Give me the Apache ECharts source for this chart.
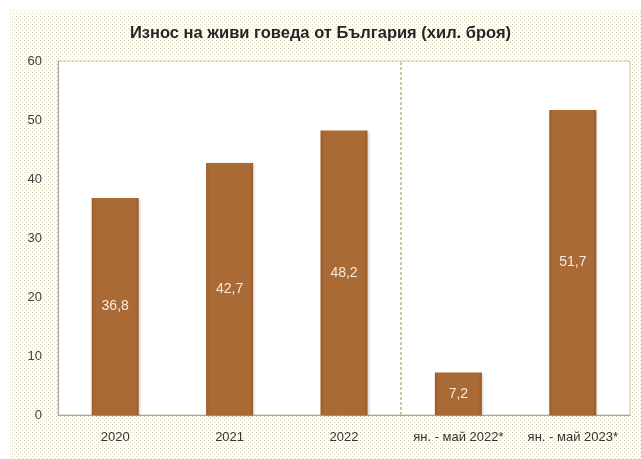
<!DOCTYPE html>
<html><head><meta charset="utf-8">
<script src="https://cdn.jsdelivr.net/npm/echarts@6/dist/echarts.min.js"></script>
<style>html,body{margin:0;padding:0;background:#fff}#c{width:641px;height:459px}</style>
</head><body><div id="c"></div>
<script>
const titleText = 'Износ на живи говеда от България (хил. броя)';
const categories = ['2020', '2021', '2022', 'ян. - май 2022*', 'ян. - май 2023*'];
const values = [36.8, 42.7, 48.2, 7.2, 51.7];
const yTicks = { min: 0, max: 60, interval: 10 };
const dividerAfter = 3; // divider after the first 3 categories (annual vs. Jan–May)

const FONT = "'Liberation Sans Narrow', 'Arial Narrow', 'Liberation Sans', Arial, sans-serif";

const pc = document.createElement('canvas');
pc.width = 4; pc.height = 4;
const px = pc.getContext('2d');
px.fillStyle = '#fff'; px.fillRect(0, 0, 4, 4);
px.fillStyle = '#d9d5b9';
px.fillRect(0, 0, 1, 1);
px.fillRect(2, 2, 1, 1);

const chart = echarts.init(document.getElementById('c'), null, { renderer: 'canvas' });
chart.setOption({
  backgroundColor: '#fff',
  animation: false,
  graphic: [{
    type: 'rect', z: -10, silent: true,
    shape: { x: 10, y: 10, width: 631, height: 449 },
    style: { fill: { image: pc, repeat: 'repeat' } }
  }],
  title: {
    text: titleText, left: 'center', top: 20,
    textStyle: { fontFamily: FONT, fontSize: 16.5, fontWeight: 'bold', color: '#262626' }
  },
  grid: {
    left: 58, right: 11, top: 61, bottom: 44,
    show: true, backgroundColor: '#fff', borderColor: '#cbc7a6', borderWidth: 1
  },
  xAxis: [{
    type: 'category', data: categories,
    axisLine: { show: true, lineStyle: { color: '#a6a6a6' } },
    axisTick: { show: false },
    axisLabel: { fontFamily: FONT, fontSize: 13, color: '#333', margin: 16, interval: 0 },
    splitLine: { show: false }
  }, {
    type: 'value', min: 0, max: categories.length, show: false,
    splitLine: { show: false }
  }],
  yAxis: {
    type: 'value', min: yTicks.min, max: yTicks.max, interval: yTicks.interval,
    axisLine: { show: true, lineStyle: { color: '#a6a6a6' } },
    axisTick: { show: false },
    splitLine: { show: false },
    axisLabel: { fontFamily: FONT, fontSize: 13, color: '#404040', margin: 16 }
  },
  series: [{
    type: 'bar', data: values, barWidth: 47,
    itemStyle: {
      color: {
        type: 'linear', x: 0, y: 0, x2: 1, y2: 0,
        colorStops: [
          { offset: 0, color: '#9a5c2b' },
          { offset: 0.08, color: '#a96a35' },
          { offset: 0.92, color: '#a96a35' },
          { offset: 1, color: '#9a5c2b' }
        ]
      },
      shadowColor: 'rgba(0,0,0,0.25)', shadowBlur: 3, shadowOffsetX: 1, shadowOffsetY: 1
    },
    label: {
      show: true, position: 'inside',
      formatter: (p) => String(p.value).replace('.', ','),
      fontFamily: FONT, fontSize: 14, color: '#f4ece4'
    }
  }, {
    type: 'line', xAxisIndex: 1, data: [], silent: true,
    markLine: {
      silent: true, symbol: 'none',
      label: { show: false },
      lineStyle: { color: '#cbc7a6', type: [3, 2], width: 2 },
      data: [{ xAxis: dividerAfter }]
    }
  }]
});
</script></body></html>
